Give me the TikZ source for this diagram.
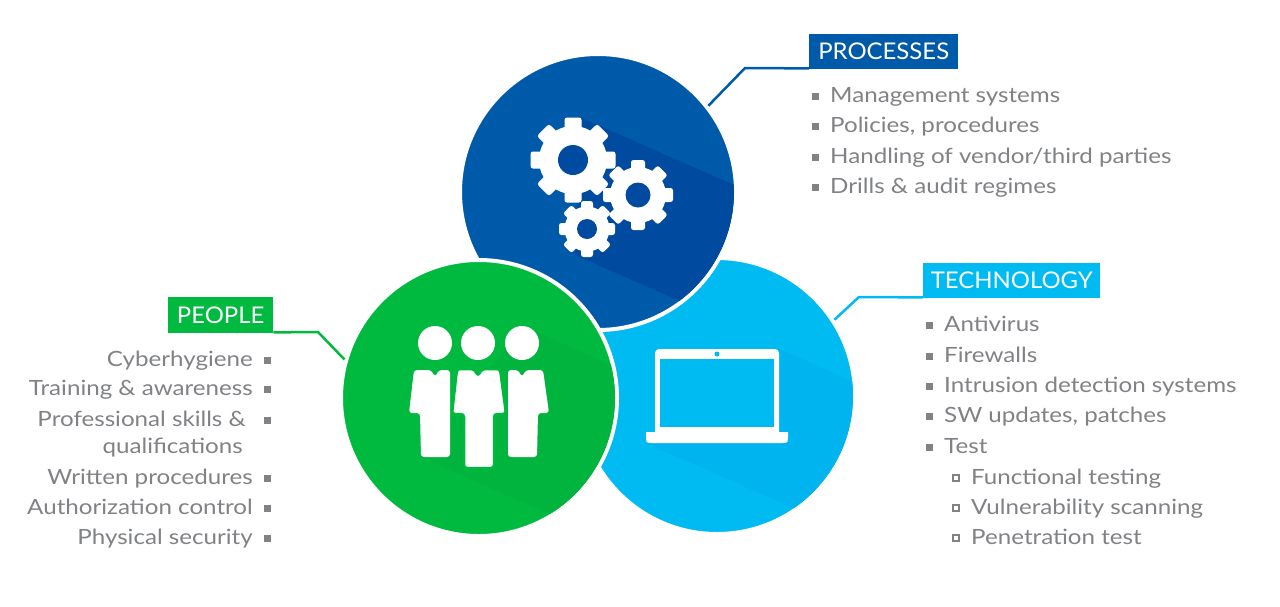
\documentclass[tikz,border=0pt]{standalone}
\usepackage{fontspec}
\setmainfont{Lato}
\newfontfamily\itemfont{Lato}[FakeStretch=1.15]
\newfontfamily\titlefont{Lato}[FakeStretch=1.04]
\definecolor{cblue}{RGB}{0,90,170}
\definecolor{cblueS}{RGB}{0,75,160}
\definecolor{cgreen}{RGB}{0,186,64}
\definecolor{cgreenS}{RGB}{0,180,62}
\definecolor{ccyan}{RGB}{0,186,242}
\definecolor{ccyanS}{RGB}{0,180,239}
\definecolor{txt}{RGB}{128,130,133}
\newcommand\gearat[7]{% cx cy R body w hole holecolor
  \foreach \a in {0,45,90,135}{%
    \fill[white, rounded corners=2.5pt, rotate around={\a:(#1,#2)}] (#1-#5/2,#2-#3) rectangle (#1+#5/2,#2+#3);}
  \fill[white] (#1,#2) circle (#4);
  \fill[#7] (#1,#2) circle (#6);
}
\begin{document}
\begin{tikzpicture}[x=1pt,y=-1pt,
  item/.style={font=\itemfont\fontsize{21}{25}\selectfont, text=txt, inner sep=0pt},
  title/.style={font=\titlefont\fontsize{23}{27}\selectfont, text=white, inner sep=0pt, minimum height=35pt, anchor=north west},
  sqfill/.style={fill=txt, minimum size=7pt, inner sep=0pt},
  sqopen/.style={draw=txt, line width=1.3pt, minimum size=6pt, inner sep=0pt},
  conn/.style={line width=2.5pt},
  ring/.style={circle, minimum size=276pt, inner sep=0pt, draw=white, line width=4pt},
]
\useasboundingbox[fill=white] (0,0) rectangle (1280,606);

% ---------- TECHNOLOGY circle ----------
\node[ring, fill=ccyan] (tech) at (717,396) {};
\begin{scope}
  \clip (717,396) circle (136);
  \fill[ccyanS] (779,349) -- (1179,525) -- (1046,619) -- (646,443) -- cycle;
\end{scope}
% laptop
\fill[white, rounded corners=4pt] (655,349) rectangle (779,436);
\fill[ccyan] (660,359) rectangle (774,427);
\fill[ccyan] (717,354) circle (2.5);
\fill[white] (646,432) -- (788,432) -- (788,436) .. controls (788,443) and (788,443) .. (781,443) -- (653,443) .. controls (646,443) and (646,443) .. (646,436) -- cycle;

% ---------- PROCESSES circle ----------
\node[ring, fill=cblue] (proc) at (598,192) {};
\begin{scope}
  \clip (598,192) circle (136);
  \fill[cblueS] (582,118) -- (982,294) -- (975,431) -- (575,255) -- cycle;
\end{scope}
\gearat{573}{160}{42.5}{34}{17}{15}{cblueS}
\gearat{638}{195}{35}{28}{14}{12.5}{cblueS}
\gearat{587}{229}{28}{22.5}{12}{10}{cblueS}

% ---------- PEOPLE circle ----------
\node[ring, fill=cgreen] (peop) at (479,398) {};
\begin{scope}
  \clip (479,398) circle (136);
  \fill[cgreenS] (523,326) -- (923,502) -- (820,633) -- (420,457) -- cycle;
\end{scope}
\fill[white] (435,343) circle (17);
\fill[white] (478,343) circle (17);
\fill[white] (522,343) circle (17);
\fill[white, rounded corners=3pt] (414,370) -- (431,370) -- (435,377) -- (439,370) -- (450,370) -- (450,457) -- (421,457) -- (420,413) -- (409,413) -- cycle;
\fill[white, rounded corners=3pt] (543,370) -- (526,370) -- (522,377) -- (518,370) -- (508,370) -- (508,457) -- (537,457) -- (538,413) -- (549,413) -- cycle;
\filldraw[fill=white, draw=cgreen, line width=2.5pt, rounded corners=3pt] (457,369) -- (474,369) -- (478,376) -- (482,369) -- (500,369) -- (506,414) -- (494,414) -- (494,468) -- (464,468) -- (464,414) -- (452,414) -- cycle;

% ---------- titles and connectors ----------
\node[title, fill=cblue, minimum width=149pt] (procT) at (809,34) {PROCESSES};
\node[title, fill=ccyan, minimum width=177pt] (techT) at (923,263) {TECHNOLOGY};
\node[title, fill=cgreen, minimum width=105pt, minimum height=36pt] (peopT) at (168,297) {PEOPLE};

\coordinate (pk) at (745,68);
\coordinate (tk) at (859,297);
\coordinate (gk) at (318,332);
\draw[conn, cblue] ([yshift=1pt]procT.south west) -- (pk) -- (proc.38);
\draw[conn, ccyan] ([yshift=1pt]techT.south west) -- (tk) -- (tech.33);
\draw[conn, cgreen] ([yshift=1pt]peopT.south east) -- (gk) -- (peop.164);

% ---------- PROCESSES list ----------
\foreach \t/\y [count=\i] in {{Management systems}/102, {Policies, procedures}/132, {Handling of vendor/third parties}/163, {Drills \& audit regimes}/193}{
  \node[item, anchor=base west] (pl\i) at (830,\y) {\t};
  \node[sqfill] (pb\i) at (815,\y-6) {};
}

% ---------- TECHNOLOGY list ----------
\foreach \t/\y [count=\i] in {Antivirus/331, Firewalls/362, {Intrusion detection systems}/392, {SW updates, patches}/422, Test/453}{
  \node[item, anchor=base west] (tl\i) at (944,\y) {\t};
  \node[sqfill] (tb\i) at (929,\y-6) {};
}
\foreach \t/\y [count=\i] in {{Functional testing}/484, {Vulnerability scanning}/514, {Penetration test}/544}{
  \node[item, anchor=base west] (ts\i) at (971,\y) {\t};
  \node[sqopen] (tsb\i) at (956,\y-6) {};
}

% ---------- PEOPLE list ----------
\foreach \t/\y/\x [count=\i] in {Cyberhygiene/366/253, {Training \& awareness}/395/253, {Professional skills \&}/426/246, {Written procedures}/484/253, {Authorization control}/514/253, {Physical security}/544/253}{
  \node[item, anchor=base east] (gl\i) at (\x,\y) {\t};
  \node[sqfill] (gb\i) at (267,\y-6) {};
}
\node[item, anchor=base east] (gq) at (243,453) {qualifications};
\end{tikzpicture}
\end{document}
